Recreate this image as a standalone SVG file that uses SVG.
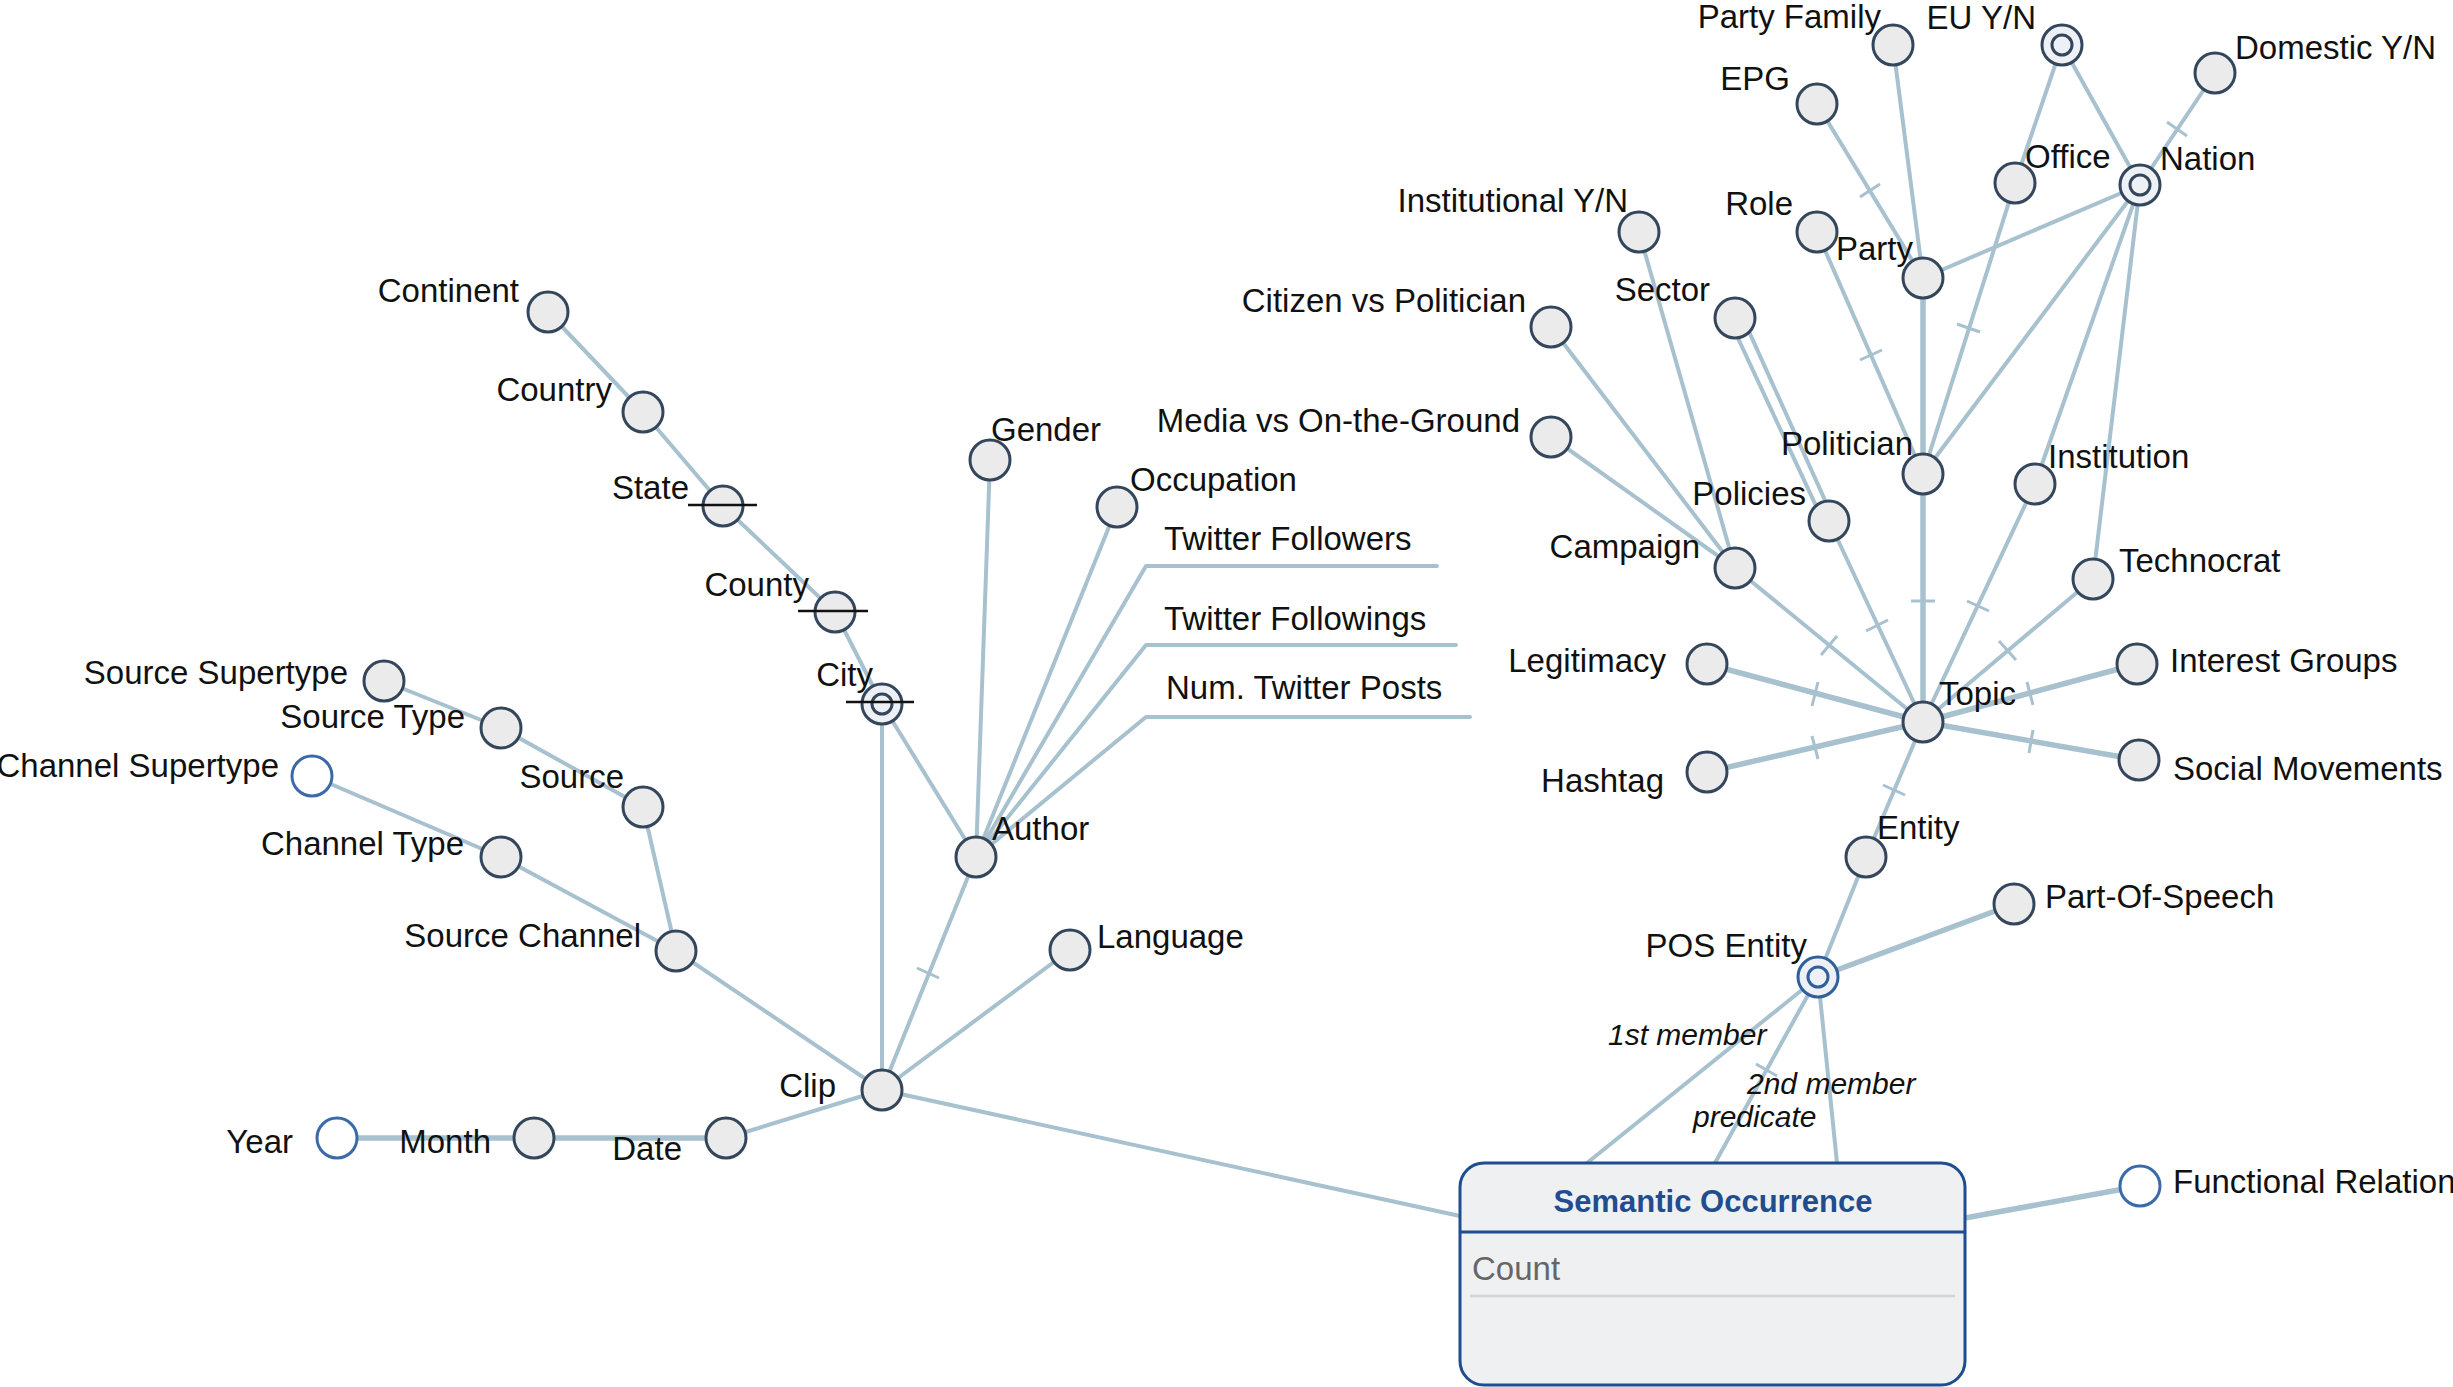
<svg xmlns="http://www.w3.org/2000/svg" width="2453" height="1387" viewBox="0 0 2453 1387">
<style>
.e{stroke:#a7c1cf;stroke-width:4;fill:none;stroke-linecap:round;stroke-linejoin:round}
.ek{stroke-width:5.5}
.t{stroke:#a7c1cf;stroke-width:3;fill:none}
.n{fill:#ebebeb;stroke:#34465c;stroke-width:3}
.w{fill:#ffffff;stroke:#3a6aa8;stroke-width:3}
.d{fill:#edf0f4;stroke:#34465c;stroke-width:3}
.db{fill:#edf0f4;stroke:#2f5f9c;stroke-width:3}
.s{stroke:#111;stroke-width:2.5}
text{font-family:"Liberation Sans",Arial,sans-serif;font-size:33px;fill:#111}
.r{text-anchor:end}
.i{font-style:italic;font-size:30px}
.title{font-weight:bold;font-size:31px;fill:#1f4d8f;text-anchor:middle}
.cnt{fill:#666}
</style>
<rect width="2453" height="1387" fill="#fff"/>
<g id="connectors">
<line class="e" x1="548" y1="312" x2="643" y2="412"/>
<line class="e" x1="643" y1="412" x2="723" y2="506"/>
<line class="e" x1="723" y1="506" x2="835" y2="612"/>
<line class="e" x1="835" y1="612" x2="882" y2="704"/>
<line class="e" x1="882" y1="704" x2="882" y2="1090"/>
<line class="e" x1="882" y1="704" x2="976" y2="857"/>
<line class="e" x1="384" y1="681" x2="501" y2="728"/>
<line class="e" x1="501" y1="728" x2="643" y2="807"/>
<line class="e" x1="643" y1="807" x2="676" y2="951"/>
<line class="e" x1="312" y1="776" x2="501" y2="857"/>
<line class="e" x1="501" y1="857" x2="676" y2="951"/>
<line class="e" x1="676" y1="951" x2="882" y2="1090"/>
<line class="e" x1="990" y1="460" x2="976" y2="857"/>
<line class="e" x1="1117" y1="507" x2="976" y2="857"/>
<polyline class="e" points="976,857 1146,566 1437,566"/>
<polyline class="e" points="976,857 1146,645 1456,645"/>
<polyline class="e" points="976,857 1146,717 1470,717"/>
<line class="e" x1="976" y1="857" x2="882" y2="1090"/>
<line class="e" x1="1070" y1="950" x2="882" y2="1090"/>
<line class="e" x1="726" y1="1138" x2="882" y2="1090"/>
<line class="e ek" x1="534" y1="1138" x2="726" y2="1138"/>
<line class="e ek" x1="337" y1="1138" x2="534" y2="1138"/>
<line class="e" x1="882" y1="1090" x2="1460" y2="1216"/>
<line class="e" x1="1893" y1="45" x2="1923" y2="278"/>
<line class="e" x1="1817" y1="104" x2="1923" y2="278"/>
<line class="e" x1="2062" y1="45" x2="2015" y2="183"/>
<line class="e" x1="2062" y1="45" x2="2140" y2="185"/>
<line class="e" x1="2215" y1="73" x2="2140" y2="185"/>
<line class="e" x1="2140" y1="185" x2="1923" y2="278"/>
<line class="e" x1="2140" y1="185" x2="1923" y2="474"/>
<line class="e" x1="2140" y1="185" x2="2035" y2="484"/>
<line class="e" x1="2140" y1="185" x2="2093" y2="579"/>
<line class="e" x1="2015" y1="183" x2="1923" y2="474"/>
<line class="e" x1="1817" y1="232" x2="1923" y2="474"/>
<line class="e ek" x1="1923" y1="278" x2="1923" y2="474"/>
<line class="e" x1="1639" y1="232" x2="1735" y2="568"/>
<line class="e" x1="1551" y1="327" x2="1735" y2="568"/>
<line class="e" x1="1551" y1="437" x2="1735" y2="568"/>
<line class="e" x1="1730" y1="321" x2="1824" y2="523"/>
<line class="e" x1="1742" y1="316" x2="1833" y2="518"/>
<line class="e" x1="1829" y1="521" x2="1923" y2="722"/>
<line class="e" x1="1735" y1="568" x2="1923" y2="722"/>
<line class="e ek" x1="1923" y1="474" x2="1923" y2="722"/>
<line class="e" x1="2035" y1="484" x2="1923" y2="722"/>
<line class="e" x1="2093" y1="579" x2="1923" y2="722"/>
<line class="e ek" x1="1707" y1="664" x2="1923" y2="722"/>
<line class="e ek" x1="2137" y1="664" x2="1923" y2="722"/>
<line class="e ek" x1="1707" y1="772" x2="1923" y2="722"/>
<line class="e ek" x1="2139" y1="760" x2="1923" y2="722"/>
<line class="e" x1="1923" y1="722" x2="1866" y2="857"/>
<line class="e" x1="1866" y1="857" x2="1818" y2="977"/>
<line class="e ek" x1="1818" y1="977" x2="2014" y2="904"/>
<line class="e" x1="1818" y1="977" x2="1587" y2="1163"/>
<line class="e" x1="1818" y1="977" x2="1715" y2="1163"/>
<line class="e" x1="1818" y1="977" x2="1837" y2="1163"/>
<line class="e ek" x1="1965" y1="1218" x2="2140" y2="1186"/>
<line class="t" x1="917" y1="968" x2="939" y2="978"/>
<line class="t" x1="1860" y1="197" x2="1880" y2="184"/>
<line class="t" x1="1860" y1="360" x2="1882" y2="350"/>
<line class="t" x1="1957" y1="324" x2="1980" y2="332"/>
<line class="t" x1="2167" y1="122" x2="2187" y2="136"/>
<line class="t" x1="1911" y1="601" x2="1935" y2="601"/>
<line class="t" x1="1967" y1="601" x2="1989" y2="611"/>
<line class="t" x1="1866" y1="631" x2="1888" y2="620"/>
<line class="t" x1="1821" y1="655" x2="1837" y2="636"/>
<line class="t" x1="1999" y1="641" x2="2016" y2="660"/>
<line class="t" x1="1812" y1="706" x2="1818" y2="682"/>
<line class="t" x1="2027" y1="682" x2="2033" y2="705"/>
<line class="t" x1="1818" y1="759" x2="1812" y2="736"/>
<line class="t" x1="2033" y1="730" x2="2029" y2="753"/>
<line class="t" x1="1883" y1="785" x2="1905" y2="795"/>
<line class="t" x1="1756" y1="1064" x2="1777" y2="1076"/>
<text class="i" x="1608" y="1045">1st member</text>
<text class="i" x="1747" y="1094">2nd member</text>
<text class="i" x="1693" y="1127">predicate</text>
<text x="1164" y="550">Twitter Followers</text>
<text x="1164" y="630">Twitter Followings</text>
<text x="1166" y="699">Num. Twitter Posts</text>
</g>
<g id="n-continent"><circle class="n" cx="548" cy="312" r="20"/><text class="r" x="519" y="302">Continent</text></g>
<g id="n-country"><circle class="n" cx="643" cy="412" r="20"/><text class="r" x="612" y="401">Country</text></g>
<g id="n-state"><circle class="n" cx="723" cy="506" r="20"/><line class="s" x1="688" y1="505" x2="757" y2="505"/><text class="r" x="689" y="499">State</text></g>
<g id="n-county"><circle class="n" cx="835" cy="612" r="20"/><line class="s" x1="798" y1="611" x2="868" y2="611"/><text class="r" x="809" y="596">County</text></g>
<g id="n-city"><circle class="d" cx="882" cy="704" r="20"/><circle class="d" cx="882" cy="704" r="10"/><line class="s" x1="846" y1="702" x2="914" y2="702"/><text class="r" x="873" y="686">City</text></g>
<g id="n-source-supertype"><circle class="n" cx="384" cy="681" r="20"/><text class="r" x="348" y="684">Source Supertype</text></g>
<g id="n-source-type"><circle class="n" cx="501" cy="728" r="20"/><text class="r" x="465" y="728">Source Type</text></g>
<g id="n-channel-supertype"><circle class="w" cx="312" cy="776" r="20"/><text class="r" x="279" y="777">Channel Supertype</text></g>
<g id="n-source"><circle class="n" cx="643" cy="807" r="20"/><text class="r" x="624" y="788">Source</text></g>
<g id="n-channel-type"><circle class="n" cx="501" cy="857" r="20"/><text class="r" x="464" y="855">Channel Type</text></g>
<g id="n-source-channel"><circle class="n" cx="676" cy="951" r="20"/><text class="r" x="641" y="947">Source Channel</text></g>
<g id="n-gender"><circle class="n" cx="990" cy="460" r="20"/><text x="991" y="441">Gender</text></g>
<g id="n-occupation"><circle class="n" cx="1117" cy="507" r="20"/><text x="1130" y="491">Occupation</text></g>
<g id="n-author"><circle class="n" cx="976" cy="857" r="20"/><text x="992" y="840">Author</text></g>
<g id="n-language"><circle class="n" cx="1070" cy="950" r="20"/><text x="1097" y="948">Language</text></g>
<g id="n-clip"><circle class="n" cx="882" cy="1090" r="20"/><text class="r" x="836" y="1097">Clip</text></g>
<g id="n-year"><circle class="w" cx="337" cy="1138" r="20"/><text class="r" x="293" y="1153">Year</text></g>
<g id="n-month"><circle class="n" cx="534" cy="1138" r="20"/><text class="r" x="491" y="1153">Month</text></g>
<g id="n-date"><circle class="n" cx="726" cy="1138" r="20"/><text class="r" x="682" y="1160">Date</text></g>
<g id="n-party-family"><circle class="n" cx="1893" cy="45" r="20"/><text class="r" x="1881" y="28">Party Family</text></g>
<g id="n-eu"><circle class="d" cx="2062" cy="45" r="20"/><circle class="d" cx="2062" cy="45" r="10"/><text class="r" x="2036" y="29">EU Y/N</text></g>
<g id="n-domestic"><circle class="n" cx="2215" cy="73" r="20"/><text x="2235" y="59">Domestic Y/N</text></g>
<g id="n-epg"><circle class="n" cx="1817" cy="104" r="20"/><text class="r" x="1790" y="90">EPG</text></g>
<g id="n-office"><circle class="n" cx="2015" cy="183" r="20"/><text x="2025" y="168">Office</text></g>
<g id="n-nation"><circle class="d" cx="2140" cy="185" r="20"/><circle class="d" cx="2140" cy="185" r="10"/><text x="2160" y="170">Nation</text></g>
<g id="n-institutional"><circle class="n" cx="1639" cy="232" r="20"/><text class="r" x="1628" y="212">Institutional Y/N</text></g>
<g id="n-role"><circle class="n" cx="1817" cy="232" r="20"/><text class="r" x="1793" y="215">Role</text></g>
<g id="n-party"><circle class="n" cx="1923" cy="278" r="20"/><text class="r" x="1913" y="260">Party</text></g>
<g id="n-citizen"><circle class="n" cx="1551" cy="327" r="20"/><text class="r" x="1526" y="312">Citizen vs Politician</text></g>
<g id="n-sector"><circle class="n" cx="1735" cy="318" r="20"/><text class="r" x="1710" y="301">Sector</text></g>
<g id="n-media"><circle class="n" cx="1551" cy="437" r="20"/><text class="r" x="1520" y="432">Media vs On-the-Ground</text></g>
<g id="n-politician"><circle class="n" cx="1923" cy="474" r="20"/><text class="r" x="1913" y="455">Politician</text></g>
<g id="n-institution"><circle class="n" cx="2035" cy="484" r="20"/><text x="2048" y="468">Institution</text></g>
<g id="n-policies"><circle class="n" cx="1829" cy="521" r="20"/><text class="r" x="1806" y="505">Policies</text></g>
<g id="n-campaign"><circle class="n" cx="1735" cy="568" r="20"/><text class="r" x="1700" y="558">Campaign</text></g>
<g id="n-technocrat"><circle class="n" cx="2093" cy="579" r="20"/><text x="2119" y="572">Technocrat</text></g>
<g id="n-legitimacy"><circle class="n" cx="1707" cy="664" r="20"/><text class="r" x="1666" y="672">Legitimacy</text></g>
<g id="n-interest"><circle class="n" cx="2137" cy="664" r="20"/><text x="2170" y="672">Interest Groups</text></g>
<g id="n-topic"><circle class="n" cx="1923" cy="722" r="20"/><text x="1939" y="705">Topic</text></g>
<g id="n-hashtag"><circle class="n" cx="1707" cy="772" r="20"/><text class="r" x="1664" y="792">Hashtag</text></g>
<g id="n-social"><circle class="n" cx="2139" cy="760" r="20"/><text x="2173" y="780">Social Movements</text></g>
<g id="n-entity"><circle class="n" cx="1866" cy="857" r="20"/><text x="1877" y="839">Entity</text></g>
<g id="n-pos"><circle class="n" cx="2014" cy="904" r="20"/><text x="2045" y="908">Part-Of-Speech</text></g>
<g id="n-pos-entity"><circle class="db" cx="1818" cy="977" r="20"/><circle class="db" cx="1818" cy="977" r="10"/><text class="r" x="1807" y="957">POS Entity</text></g>
<g id="n-functional"><circle class="w" cx="2140" cy="1186" r="20"/><text x="2173" y="1193">Functional Relation</text></g>
<g id="n-semantic">
<rect x="1460" y="1163" width="505" height="222" rx="24" fill="#eef0f2" stroke="#1f4d8f" stroke-width="3"/>
<line x1="1460" y1="1232" x2="1965" y2="1232" stroke="#1f4d8f" stroke-width="3"/>
<line x1="1470" y1="1296" x2="1955" y2="1296" stroke="#cdd4da" stroke-width="2.5"/>
<text class="title" x="1713" y="1212">Semantic Occurrence</text>
<text class="cnt" x="1472" y="1280">Count</text>
</g>
</svg>
